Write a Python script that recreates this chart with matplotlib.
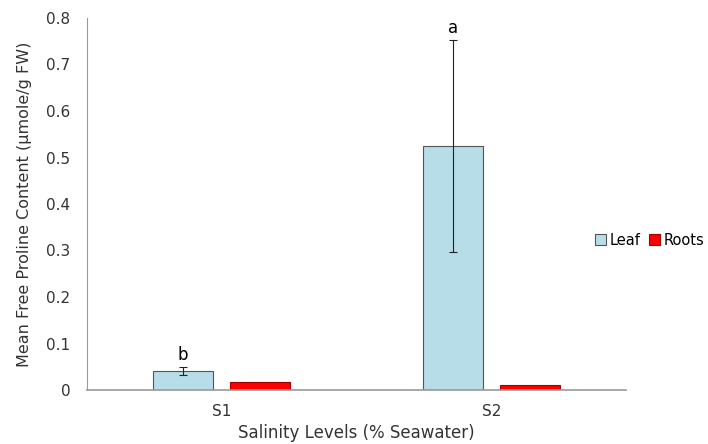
import numpy as np
import matplotlib.pyplot as plt

categories = ["S1", "S2"]
leaf = [0.041, 0.525]
leaf_err = [0.008, 0.228]
roots = [0.017, 0.011]
letters = ["b", "a"]

plt.rcParams['font.family'] = ['DejaVu Sans']

fig = plt.figure(figsize=(7.08, 4.44), dpi=100)
ax = fig.add_axes([87 / 708, 54 / 444, 539 / 708, 372 / 444])

x = np.arange(len(categories))
w = 0.223
off = 0.143

ax.bar(x - off, leaf, w, color="#b7dde8", edgecolor="#555555", linewidth=0.8,
       label="Leaf", zorder=2)
ax.errorbar(x - off, leaf, yerr=leaf_err, fmt="none", ecolor="#222222",
            elinewidth=0.8, capsize=3, capthick=0.8, zorder=3)
ax.bar(x + off, roots, w, color="#ff0000", edgecolor="#a00000", linewidth=0.8,
       label="Roots", zorder=2)

for xi, v, e, t in zip(x, leaf, leaf_err, letters):
    ax.text(xi - off, v + e + 0.006, t, ha="center", va="bottom", fontsize=12)

ax.set_xlim(-0.5, 1.5)
ax.set_ylim(0, 0.8)
ax.set_yticks(np.arange(0, 0.81, 0.1))
ax.set_yticklabels(["0"] + [f"{v:.1f}" for v in np.arange(0.1, 0.81, 0.1)])
ax.set_xticks(x)
ax.set_xticklabels(categories)
ax.tick_params(length=0, labelsize=11, colors="#333333")
ax.tick_params(axis="y", pad=12)
ax.tick_params(axis="x", pad=10)

for s in ["top", "right"]:
    ax.spines[s].set_visible(False)
ax.spines["left"].set_color("#999999")
ax.spines["bottom"].set_color("#999999")
ax.spines["bottom"].set_linewidth(1.2)

ax.set_ylabel("Mean Free Proline Content (µmole/g FW)", fontsize=11.5,
              color="#333333", labelpad=10)
ax.set_xlabel("Salinity Levels (% Seawater)", fontsize=12, color="#333333", labelpad=4)

ax.legend(loc="center left", bbox_to_anchor=(0.943, 0.403), frameon=False,
          fontsize=10.5, handlelength=0.75, handleheight=0.75, handletextpad=0.25,
          ncol=2, columnspacing=0.6, borderpad=0, borderaxespad=0)

fig.savefig("out.png", dpi=100)
